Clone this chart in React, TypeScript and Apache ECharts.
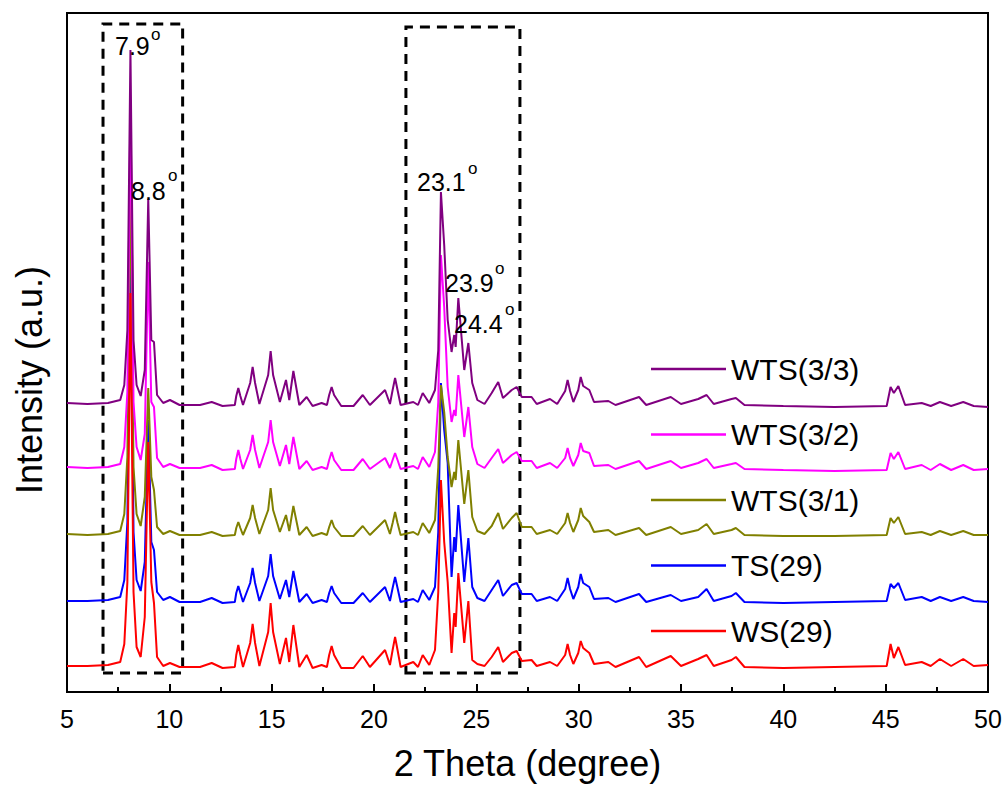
import React, { useEffect, useRef } from "react";
import * as echarts from "echarts";

// 2θ positions (degree) shared by all patterns
const twoTheta = [
  5.0, 6.0, 7.0, 7.6, 7.8, 7.95, 8.1, 8.25, 8.4, 8.6,
  8.8, 8.97, 9.12, 9.25, 9.4, 9.7, 10.03, 10.5, 11.5, 12.07,
  12.6, 13.2, 13.27, 13.37, 13.47, 13.6, 13.95, 14.07, 14.19, 14.4,
  14.83, 14.95, 15.07, 15.4, 15.7, 15.86, 16.06, 16.35, 16.71, 17.0,
  17.44, 17.7, 17.81, 17.93, 18.05, 18.4, 19.0, 19.45, 19.8, 20.54,
  20.78, 20.91, 21.03, 21.15, 21.3, 21.92, 22.15, 22.38, 22.7, 22.98,
  23.14, 23.27, 23.43, 23.6, 23.79, 23.92, 23.99, 24.12, 24.41, 24.61,
  24.8, 25.05, 25.4, 25.75, 26.07, 26.3, 26.73, 26.97, 27.22, 27.7,
  27.95, 28.6, 28.95, 29.34, 29.46, 29.58, 29.74, 29.98, 30.1, 30.22,
  30.52, 30.75, 31.45, 31.8, 32.95, 33.3, 34.5, 35.0, 35.84, 36.25,
  36.6, 37.47, 37.68, 38.1, 40.0, 42.5, 45.05, 45.24, 45.4, 45.62,
  45.95, 46.76, 47.2, 47.65, 48.2, 48.79, 49.3, 50.0,
];

// Intensities (a.u., stacked with offsets as in the figure)
const wts33 = [
  289, 288, 289, 292, 307, 362, 642, 352, 307, 296,
  322, 493, 352, 350, 297, 289, 292, 287, 287, 290,
  286, 287, 296, 304, 296, 287, 309, 325, 309, 288,
  317, 341, 317, 290, 312, 292, 321, 287, 295, 286,
  289, 287, 297, 305, 297, 286, 286, 297, 287, 302,
  288, 302, 314, 302, 287, 290, 287, 299, 289, 302,
  342, 500, 447, 372, 340, 357, 345, 394, 322, 349,
  309, 292, 288, 299, 310, 294, 302, 305, 295, 295,
  288, 293, 288, 301, 312, 301, 290, 302, 315, 306,
  302, 290, 291, 287, 295, 287, 295, 288, 293, 297,
  288, 293, 294, 287, 286, 285, 286, 305, 299, 306,
  287, 289, 286, 290, 286, 290, 286, 285,
];
const wts32 = [
  225, 224, 225, 228, 245, 300, 592, 290, 245, 232,
  258, 430, 290, 285, 234, 225, 228, 224, 224, 227,
  222, 223, 233, 242, 233, 223, 242, 257, 242, 224,
  250, 272, 250, 226, 247, 228, 255, 223, 231, 222,
  225, 223, 232, 240, 232, 222, 222, 233, 223, 234,
  224, 232, 239, 232, 223, 226, 223, 235, 225, 240,
  290, 437, 385, 305, 270, 282, 276, 317, 255, 285,
  245, 228, 224, 234, 243, 229, 237, 240, 231, 231,
  224, 229, 224, 234, 244, 234, 226, 237, 249, 241,
  239, 226, 227, 223, 231, 223, 231, 224, 229, 233,
  224, 228, 229, 223, 222, 221, 222, 239, 233, 240,
  223, 227, 222, 228, 222, 227, 222, 223,
];
const wts31 = [
  158, 157, 158, 161, 178, 235, 520, 225, 178, 166,
  195, 304, 215, 202, 165, 158, 161, 157, 157, 160,
  156, 157, 164, 170, 164, 157, 174, 187, 174, 158,
  182, 204, 182, 160, 177, 161, 186, 157, 165, 156,
  159, 157, 165, 172, 165, 156, 156, 166, 157, 172,
  158, 169, 180, 169, 157, 160, 157, 169, 159, 172,
  225, 307, 280, 235, 205, 220, 212, 252, 188, 222,
  175, 161, 158, 166, 179, 163, 174, 179, 165, 165,
  158, 162, 158, 169, 179, 169, 160, 172, 184, 176,
  170, 160, 162, 157, 164, 157, 165, 158, 162, 168,
  158, 162, 164, 157, 156, 156, 157, 174, 169, 175,
  158, 160, 157, 161, 157, 161, 157, 157,
];
const ts29 = [
  91, 91, 92, 95, 112, 170, 454, 160, 112, 101,
  130, 272, 150, 142, 100, 92, 95, 90, 90, 94,
  89, 90, 99, 106, 99, 90, 109, 124, 109, 91,
  116, 138, 116, 93, 112, 95, 121, 90, 98, 89,
  92, 90, 99, 106, 99, 89, 89, 99, 90, 105,
  91, 104, 115, 104, 90, 93, 90, 102, 92, 105,
  160, 309, 262, 229, 115, 155, 140, 187, 110, 154,
  105, 94, 91, 102, 112, 96, 107, 109, 98, 98,
  91, 95, 91, 103, 114, 103, 93, 105, 118, 109,
  105, 93, 94, 90, 98, 90, 97, 91, 95, 103,
  91, 96, 99, 90, 89, 90, 91, 108, 104, 109,
  92, 95, 91, 95, 91, 95, 91, 90,
];
const ws29 = [
  26, 26, 27, 30, 48, 110, 399, 100, 45, 35,
  75, 250, 110, 89, 35, 26, 29, 25, 25, 29,
  24, 25, 37, 47, 37, 25, 49, 68, 49, 26,
  60, 89, 60, 28, 54, 30, 67, 25, 37, 24,
  27, 25, 37, 46, 37, 24, 24, 36, 25, 42,
  27, 42, 55, 42, 25, 30, 25, 37, 27, 42,
  100, 212, 150, 110, 39, 79, 65, 119, 49, 91,
  32, 28, 26, 35, 45, 30, 39, 41, 31, 32,
  26, 30, 26, 37, 48, 37, 28, 39, 51, 44,
  39, 28, 30, 25, 35, 25, 36, 26, 33, 37,
  26, 32, 35, 25, 24, 25, 26, 48, 34, 45,
  27, 30, 26, 33, 26, 33, 26, 27,
];

const seriesNames = ["WTS(3/3)", "WTS(3/2)", "WTS(3/1)", "TS(29)", "WS(29)"];
const seriesColors = ["#800080", "#FF00FF", "#808000", "#0000FF", "#FF0000"];
const xTicks = [5, 10, 15, 20, 25, 30, 35, 40, 45, 50];

// dashed highlight boxes: [x0, x1] in degree, [y0, y1] in intensity units
const boxX = [[6.76, 10.65], [21.56, 27.13]];
const boxY = [[19, 668], [19, 665]];

// peak annotations
const peakLabels = ["7.9", "8.8", "23.1", "23.9", "24.4"];

const FONT = "'Liberation Sans', Arial, Helvetica, sans-serif";

export default function App() {
  const ref = useRef<HTMLDivElement>(null);

  useEffect(() => {
    if (!ref.current) return;
    const chart = echarts.init(ref.current, undefined, { renderer: "svg" });
    const pairs = (ys: number[]) => twoTheta.map((x, i) => [x, ys[i]]);
    const dataMap: Record<string, number[]> = {
      "WTS(3/3)": wts33,
      "WTS(3/2)": wts32,
      "WTS(3/1)": wts31,
      "TS(29)": ts29,
      "WS(29)": ws29,
    };
    const drawOrder = ["TS(29)", "WTS(3/1)", "WTS(3/2)", "WS(29)", "WTS(3/3)"];
    const series: any[] = drawOrder.map((name) => ({
      name,
      type: "line",
      data: pairs(dataMap[name]),
      symbol: "none",
      showSymbol: false,
      smooth: false,
      lineStyle: { width: 2, color: seriesColors[seriesNames.indexOf(name)] },
      itemStyle: { color: seriesColors[seriesNames.indexOf(name)] },
      z: 2,
    }));
    series[series.length - 1].markArea = {
      silent: true,
      itemStyle: {
        color: "rgba(0,0,0,0)",
        borderColor: "#000",
        borderWidth: 3,
        borderType: [10, 7],
      },
      data: boxX.map((bx, i) => [
        { coord: [bx[0], boxY[i][0]] },
        { coord: [bx[1], boxY[i][1]] },
      ]),
    };

    // annotation positions (pixel): number text left, center y, degree sign x, y
    const annPos = [
      [115, 47, 151, 36],
      [131, 192, 168, 177],
      [417, 183, 468, 170],
      [445, 284, 495, 270],
      [454, 325, 505, 311],
    ];
    const graphic: any[] = [];
    peakLabels.forEach((t, i) => {
      const p = annPos[i];
      graphic.push({
        type: "text",
        left: p[0],
        top: p[1] - 14,
        style: { text: t, fontSize: 25, fontFamily: FONT, fill: "#000" },
        z: 10,
      });
      graphic.push({
        type: "text",
        left: p[2],
        top: p[3] - 10,
        style: { text: "o", fontSize: 17, fontFamily: FONT, fill: "#000" },
        z: 10,
      });
    });
    graphic.push({
      type: "text",
      x: 29,
      y: 380,
      rotation: Math.PI / 2,
      style: {
        text: "Intensity (a.u.)",
        fontSize: 36,
        fontFamily: FONT,
        fill: "#000",
        align: "center",
        verticalAlign: "middle",
      },
      z: 10,
    });

    chart.setOption({
      animation: false,
      backgroundColor: "#fff",
      grid: {
        left: 67,
        right: 20,
        top: 13,
        bottom: 95,
        show: true,
        borderColor: "#000",
        borderWidth: 2,
      },
      legend: {
        data: seriesNames,
        orient: "vertical",
        left: 646,
        top: 349,
        icon: "rect",
        itemWidth: 75,
        itemHeight: 2.5,
        itemGap: 35.5,
        textStyle: {
          fontSize: 30,
          lineHeight: 30,
          fontFamily: FONT,
          color: "#000",
        },
      },
      xAxis: {
        type: "value",
        min: xTicks[0],
        max: xTicks[xTicks.length - 1],
        interval: 5,
        name: "2 Theta (degree)",
        nameLocation: "middle",
        nameGap: 53,
        nameTextStyle: { fontSize: 36, fontFamily: FONT, color: "#000" },
        axisLine: { show: true, lineStyle: { color: "#000", width: 2 } },
        axisTick: { show: true, inside: true, length: 8, lineStyle: { color: "#000", width: 2 } },
        minorTick: { show: true, splitNumber: 2, length: 5, lineStyle: { color: "#000", width: 2 } },
        axisLabel: { fontSize: 25, fontFamily: FONT, color: "#000", margin: 14 },
        splitLine: { show: false },
      },
      yAxis: {
        type: "value",
        min: 0,
        max: 679,
        axisLine: { show: true, lineStyle: { color: "#000", width: 2 } },
        axisTick: { show: false },
        axisLabel: { show: false },
        splitLine: { show: false },
      },
      series,
      graphic,
    });
    return () => chart.dispose();
  }, []);

  return (
    <div
      ref={ref}
      style={{ position: "absolute", left: 0, top: 0, width: 1008, height: 787, background: "#fff" }}
    />
  );
}
